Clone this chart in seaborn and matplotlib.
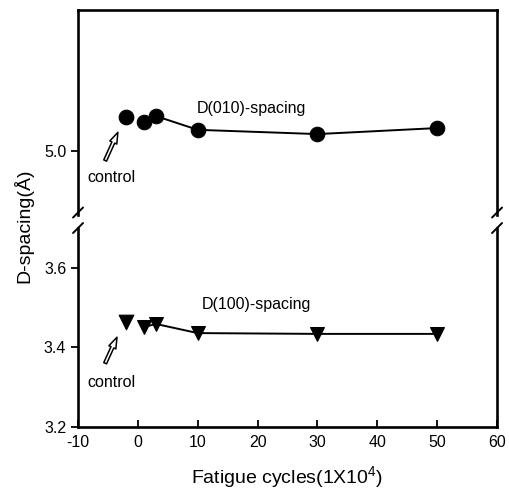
import numpy as np
import pandas as pd
import matplotlib
matplotlib.use("Agg")
import matplotlib.pyplot as plt
import seaborn as sns

# data
cycles = [1, 3, 10, 30, 50]
d010 = [5.083, 5.100, 5.061, 5.049, 5.066]
d100 = [3.451, 3.459, 3.436, 3.434, 3.434]
control_x = [-2]
control_010 = [5.098]
control_100 = [3.464]

x_ticks = [-10, 0, 10, 20, 30, 40, 50, 60]
top_ticks = [5.0]
bottom_ticks = [3.2, 3.4, 3.6]

sns.set_style("ticks")
plt.rcParams['font.family'] = ['Liberation Sans', 'DejaVu Sans']
plt.rcParams['mathtext.default'] = 'regular'
plt.rcParams['axes.unicode_minus'] = False
plt.rcParams['text.color'] = 'black'
plt.rcParams['axes.labelcolor'] = 'black'
plt.rcParams['xtick.color'] = 'black'
plt.rcParams['ytick.color'] = 'black'
plt.rcParams['axes.edgecolor'] = 'black'

fig = plt.figure(figsize=(5.1, 4.91), dpi=100)
ax_top = fig.add_axes([0.153, 0.5621, 0.8216, 0.4175])
ax_bot = fig.add_axes([0.153, 0.1303, 0.8216, 0.4053])

df010 = pd.DataFrame({'x': cycles, 'y': d010})
df100 = pd.DataFrame({'x': cycles, 'y': d100})

# D(010) on the upper part
sns.lineplot(data=df010, x='x', y='y', ax=ax_top, color='black', lw=1.4,
             marker='o', markersize=10.5, markeredgecolor='black')
sns.scatterplot(x=control_x, y=control_010, ax=ax_top, color='black',
                marker='o', s=110, edgecolor='black')

# D(100) on the lower part
sns.lineplot(data=df100, x='x', y='y', ax=ax_bot, color='black', lw=1.4,
             marker='v', markersize=10.5, markeredgecolor='black')
sns.scatterplot(x=control_x, y=control_100, ax=ax_bot, color='black',
                marker='v', s=110, edgecolor='black')

for ax in (ax_top, ax_bot):
    ax.set_xlim(-10, 60)
    ax.set_xlabel('')
    ax.set_ylabel('')
    for sp in ax.spines.values():
        sp.set_linewidth(1.9)
        sp.set_color('black')
        sp.set_visible(True)
    ax.tick_params(axis='y', direction='out', length=5, width=1.3, labelsize=11.5)

ax_top.set_ylim(4.82, 5.40)
ax_top.set_yticks(top_ticks)
ax_top.set_yticklabels(['5.0'])
ax_top.spines['bottom'].set_visible(False)
ax_top.set_xticks([])

ax_bot.set_ylim(3.2, 3.7)
ax_bot.set_yticks(bottom_ticks)
ax_bot.set_yticklabels(['3.2', '3.4', '3.6'])
ax_bot.spines['top'].set_visible(False)
ax_bot.set_xticks(x_ticks)
ax_bot.tick_params(axis='x', direction='in', length=5, width=1.3, labelsize=11.5, pad=6)
ax_bot.set_xlabel('Fatigue cycles(1X10$^{4}$)', fontsize=14, labelpad=10)

fig.text(0.045, 0.54, 'D-spacing(Å)', rotation=90, fontsize=14, ha='center', va='center')

# break marks on both spines
dx, dy = 5 / 419, 5 / 205
for xs in (0, 1):
    ax_top.plot([xs - dx, xs + dx], [-dy + 0.012, dy + 0.012], transform=ax_top.transAxes,
                color='black', lw=1.4, clip_on=False)
dy2 = 5 / 199
for xs in (0, 1):
    ax_bot.plot([xs - dx, xs + dx], [1 - dy2, 1 + dy2], transform=ax_bot.transAxes,
                color='black', lw=1.4, clip_on=False)

# labels
ax_top.text(9.9, 5.12, 'D(010)-spacing', fontsize=11.5, va='center', ha='left')
ax_bot.text(10.7, 3.507, 'D(100)-spacing', fontsize=11.5, va='center', ha='left')

arrow = dict(arrowstyle='simple,head_width=0.55,head_length=0.8,tail_width=0.22',
             fc='white', ec='black', lw=1.1)
ax_top.annotate('', xy=(-3.15, 5.061), xytext=(-5.66, 4.967), arrowprops=arrow)
ax_top.text(-4.5, 4.925, 'control', fontsize=11.5, ha='center', va='center')
ax_bot.annotate('', xy=(-3.3, 3.432), xytext=(-5.66, 3.354), arrowprops=arrow)
ax_bot.text(-4.5, 3.313, 'control', fontsize=11.5, ha='center', va='center')

fig.savefig('out.png', dpi=100)
